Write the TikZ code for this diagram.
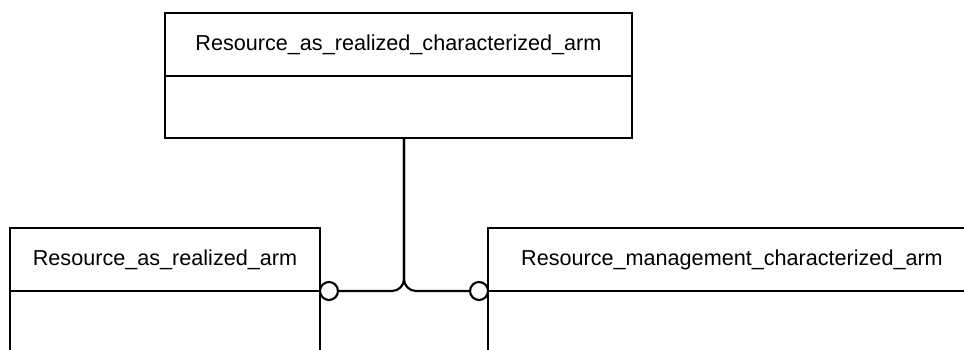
\documentclass[tikz,border=0pt]{standalone}
\usepackage{fontspec}
\setmainfont{Liberation Sans}
\usetikzlibrary{positioning}

\tikzset{
  head/.style={draw, line width=1.2pt, outer sep=0pt, minimum height=1.26cm,
    font=\fontsize{12.3}{14}\selectfont},
  body/.style={draw, line width=1.2pt, outer sep=0pt},
  ring/.style={draw, circle, line width=1.2pt, fill=white, inner sep=0pt,
    minimum size=0.36cm, outer sep=0pt},
  link/.style={line width=1.2pt, rounded corners=0.24cm}
}

\begin{document}
\begin{tikzpicture}[x=0.02cm, y=-0.02cm]
        \useasboundingbox (0,0) rectangle (964,349);
        \clip (0,0) rectangle (964,349);

        \node [head, minimum width=9.34cm] (charhead) at (398.5,44.5) {Resource\_as\_realized\_characterized\_arm};
        \node [body, below=0pt of charhead, minimum width=9.34cm, minimum height=1.24cm] (charbody) {};
        \coordinate (stem) at ([xshift=0.11cm]charbody.south);

        \node [head, minimum width=6.2cm] (realhead) at (165,259.5) {Resource\_as\_realized\_arm};
        \node [body, below=0pt of realhead, minimum width=6.2cm, minimum height=2cm] (realbody) {};

        \node [head, minimum width=9.76cm] (mgmthead) at (732,259.5) {Resource\_management\_characterized\_arm};
        \node [body, below=0pt of mgmthead, minimum width=9.76cm, minimum height=2cm] (mgmtbody) {};

        \node [ring, right=0pt of realhead.south east] (realring) {};
        \node [ring, left=0pt of mgmthead.south west] (mgmtring) {};

        \draw [link] (realring.east) -| (stem);
        \draw [link] (mgmtring.west) -| (stem);
      \end{tikzpicture}
\end{document}
